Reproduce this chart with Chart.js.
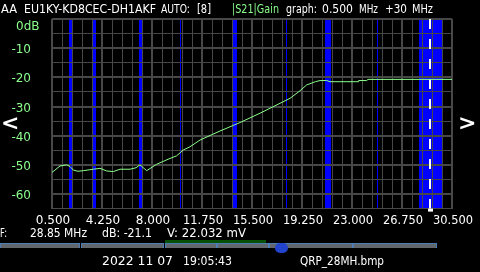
<!DOCTYPE html>
<html>
<head>
<meta charset="utf-8">
<script src="https://cdn.jsdelivr.net/npm/chart.js@4"></script>
<style>
  html, body { margin: 0; padding: 0; background: #000; }
  #wrap { position: relative; width: 480px; height: 272px; overflow: hidden; background: #000; }
  canvas { position: absolute; left: 0; top: 0; }
  .t { position: absolute; font: 12px "DejaVu Sans", sans-serif; line-height: 12px; color: #fff; white-space: pre; transform-origin: 0 0; }
  .g { color: #8cff8c; }
  .chev { position: absolute; font: bold 22px "DejaVu Sans", sans-serif; line-height: 22px; color: #fff; }
  .bar { position: absolute; top: 243px; height: 4px; background: #62676d; border: 1px solid #4d7db3; border-bottom: none; }
</style>
</head>
<body>
<div id="wrap">
  <canvas id="vnaChart" width="480" height="272"></canvas>

  <div class="t" data-w="16" style="left:1px;top:3px">AA</div>
  <div class="t" data-w="132" style="left:24px;top:3px">EU1KY-KD8CEC-DH1AKF</div>
  <div class="t" data-w="29" style="left:161px;top:3px">AUTO:</div>
  <div class="t" data-w="14" style="left:197px;top:3px">[8]</div>
  <div class="t g" data-w="47" style="left:232px;top:3px">|S21|Gain</div>
  <div class="t" data-w="31" style="left:286px;top:3px">graph:</div>
  <div class="t" data-w="31" style="left:322px;top:3px">0.500</div>
  <div class="t" data-w="19" style="left:359px;top:3px">MHz</div>
  <div class="t" data-w="22" style="left:385px;top:3px">+30</div>
  <div class="t" data-w="21" style="left:412px;top:3px">MHz</div>

  <div class="chev" style="left:1px;top:112px">&lt;</div>
  <div class="chev" style="left:458px;top:112px">&gt;</div>

  <div class="t" data-w="7" style="left:0px;top:227px">F:</div>
  <div class="t" data-w="57" style="left:30px;top:227px">28.85 MHz</div>
  <div class="t" data-w="50" style="left:102px;top:227px">dB: -21.1</div>
  <div class="t" data-w="79" style="left:167px;top:227px">V: 22.032 mV</div>

  <div style="position:absolute;left:165px;top:240px;width:101px;height:3px;background:#064f06"></div>
  <div class="bar" style="left:0px;width:78px"></div>
  <div class="bar" style="left:81px;width:81px"></div>
  <div class="bar" style="left:165px;width:50px"></div>
  <div class="bar" style="left:217px;width:50px"></div>
  <div class="bar" style="left:269px;width:82px"></div>
  <div class="bar" style="left:353px;width:82px"></div>
  <div style="position:absolute;left:275px;top:243px;width:13px;height:10px;border-radius:7px;background:#2244cc"></div>

  <div class="t" data-w="71" style="left:102px;top:255px">2022 11 07</div>
  <div class="t" data-w="49" style="left:183px;top:255px">19:05:43</div>
  <div class="t" data-w="84" style="left:300px;top:255px">QRP_28MH.bmp</div>
</div>

<script>
// datos
const freqMHz = [0.5, 0.8, 1.1, 1.6, 1.85, 2.1, 2.45, 2.85, 3.6, 4.1, 4.6, 5.1, 5.6, 6.35, 6.8, 7.1, 7.6,
  8.35, 9.35, 9.85, 10.35, 10.85, 11.6, 13.1, 14.6, 16.1, 17.6, 18.35, 19.1, 19.6, 20.25, 20.6,
  21.1, 21.35, 23.45, 23.5, 24.1, 24.2, 30.5];
const gainDb = [-52.6, -51.5, -50.4, -50.0, -50.6, -51.8, -52.2, -52.0, -51.5, -51.2, -52.1, -52.3, -51.5, -51.5, -51.0, -50.0, -52.0,
  -49.8, -47.8, -46.9, -44.9, -43.8, -41.5, -38.4, -35.5, -32.3, -28.9, -27.2, -24.6, -22.6, -21.5, -21.1,
  -21.1, -21.5, -21.5, -21.1, -21.1, -20.7, -20.7];

const xTicks = [0.5, 4.25, 8, 11.75, 15.5, 19.25, 23, 26.75, 30.5];
const xLabels = ['0.500', '4.250', '8.000', '11.750', '15.500', '19.250', '23.000', '26.750', '30.500'];
const yTicks = [0, -10, -20, -30, -40, -50, -60];
const yLabels = ['0dB', '-10', '-20', '-30', '-40', '-50', '-60'];

// bandas de radioaficionado (MHz)
const bandStart = [1.81, 3.5, 7.0, 10.1, 14.0, 18.068, 21.0, 24.89, 28.0];
const bandEnd = [2.0, 3.8, 7.2, 10.15, 14.35, 18.168, 21.45, 24.99, 29.7];
const markerMHz = 28.85;

const GRID = '#474747';
const GREEN = '#8cff8c';

// ajustar el ancho de los textos de la pantalla
document.querySelectorAll('.t[data-w]').forEach(el => {
  const w = el.getBoundingClientRect().width;
  if (w > 0) el.style.transform = 'scaleX(' + (Number(el.dataset.w) / w) + ')';
});

const vnaPlugin = {
  id: 'vna',
  beforeDraw(chart) {
    const ctx = chart.ctx;
    const x = chart.scales.x, a = chart.chartArea;
    ctx.save();
    ctx.fillStyle = '#000';
    ctx.fillRect(0, 0, chart.width, chart.height);
    ctx.fillStyle = '#0000ff';
    for (let i = 0; i < bandStart.length; i++) {
      const x0 = x.getPixelForValue(bandStart[i]);
      const x1 = x.getPixelForValue(bandEnd[i]);
      ctx.fillRect(Math.round(x0), a.top, Math.max(1, Math.round(x1 - x0)), a.bottom - a.top);
    }
    ctx.restore();
  },
  beforeDatasetsDraw(chart) {
    const ctx = chart.ctx;
    const a = chart.chartArea;
    const mx = Math.round(chart.scales.x.getPixelForValue(markerMHz));
    ctx.save();
    ctx.strokeStyle = '#fff';
    ctx.lineWidth = 2;
    ctx.setLineDash([10, 10]);
    ctx.beginPath();
    ctx.moveTo(mx, a.top);
    ctx.lineTo(mx, a.bottom);
    ctx.stroke();
    ctx.fillStyle = '#fff';
    ctx.fillRect(mx - 2, a.bottom, 5, 3);
    ctx.restore();
  },
  afterDraw(chart) {
    const ctx = chart.ctx;
    const x = chart.scales.x, y = chart.scales.y;
    ctx.save();
    ctx.font = '12px "DejaVu Sans", sans-serif';
    ctx.fillStyle = '#fff';
    ctx.textAlign = 'center';
    ctx.textBaseline = 'alphabetic';
    xTicks.forEach((v, i) => ctx.fillText(xLabels[i], x.getPixelForValue(v) + 1, 224, 40));
    ctx.fillStyle = GREEN;
    yTicks.forEach((v, i) => {
      const py = y.getPixelForValue(v);
      if (v === 0) {
        ctx.textAlign = 'left';
        ctx.fillText(yLabels[i], 16, py + 11);
      } else {
        ctx.textAlign = 'right';
        ctx.fillText(yLabels[i], 31, py + 5);
      }
    });
    ctx.restore();
  }
};

function isMajorX(v) {
  const k = (v - xTicks[0]) / (xTicks[1] - xTicks[0]);
  return Math.abs(k - Math.round(k)) < 1e-6;
}

new Chart(document.getElementById('vnaChart').getContext('2d'), {
  type: 'line',
  data: {
    datasets: [{
      label: '|S21|Gain',
      data: freqMHz.map((f, i) => ({ x: f, y: gainDb[i] })),
      borderColor: GREEN,
      borderWidth: 1,
      pointRadius: 0,
      tension: 0,
      fill: false
    }]
  },
  options: {
    responsive: false,
    animation: false,
    events: [],
    layout: { padding: { left: 52, right: 28, top: 19, bottom: 63.4 } },
    plugins: { legend: { display: false }, tooltip: { enabled: false } },
    scales: {
      x: {
        type: 'linear',
        min: xTicks[0],
        max: xTicks[xTicks.length - 1],
        afterBuildTicks(scale) {
          const t = [];
          for (let i = 0; i < xTicks.length - 1; i++) {
            const step = (xTicks[i + 1] - xTicks[i]) / 5;
            for (let j = 0; j < 5; j++) t.push({ value: xTicks[i] + j * step });
          }
          t.push({ value: xTicks[xTicks.length - 1] });
          scale.ticks = t;
        },
        ticks: { display: false, autoSkip: false },
        border: { display: false },
        grid: {
          color: GRID,
          drawTicks: false,
          lineWidth: ctx => (ctx.tick && isMajorX(ctx.tick.value) ? 2 : 1)
        }
      },
      y: {
        type: 'linear',
        min: -65,
        max: 0,
        afterBuildTicks(scale) {
          const t = [];
          for (let v = 0; v >= -65; v -= 5) t.push({ value: v });
          scale.ticks = t;
        },
        ticks: { display: false },
        border: { display: false },
        grid: {
          color: GRID,
          drawTicks: false,
          lineWidth: ctx => (ctx.tick && ctx.tick.value % 10 === 0 ? 2 : 1)
        }
      }
    }
  },
  plugins: [vnaPlugin]
});
</script>
</body>
</html>
